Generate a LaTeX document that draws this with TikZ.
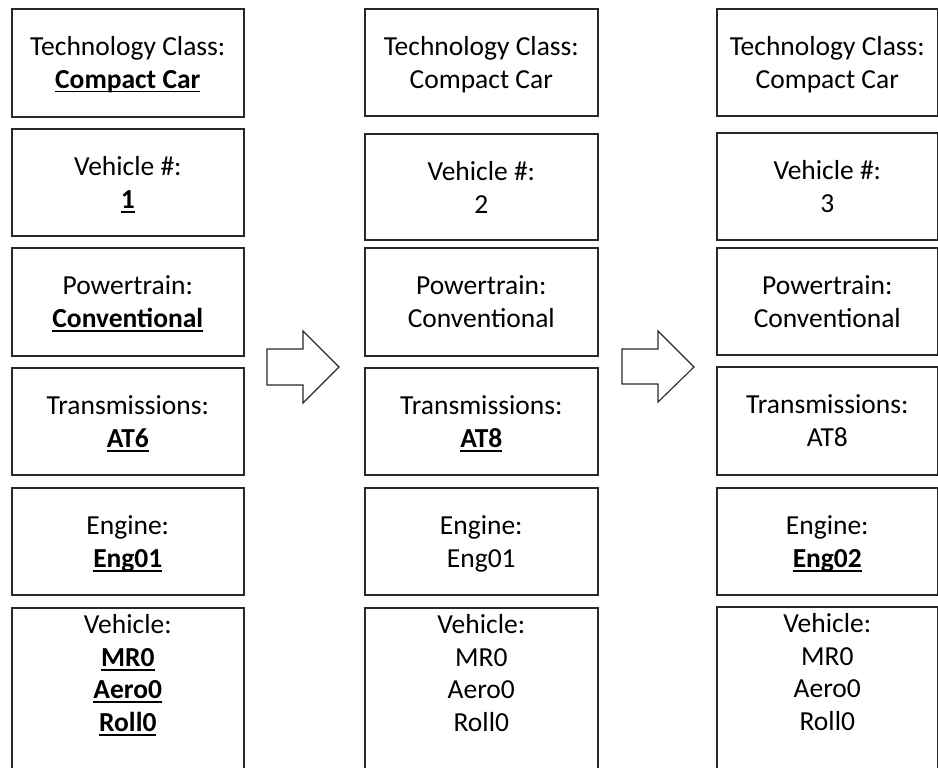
\documentclass[tikz,border=0pt]{standalone}
\usepackage{fontspec}
\setmainfont{Carlito}
\usepackage{tikz}
\definecolor{edge}{RGB}{40, 40, 40}
\newsavebox{\chgbox}
\newcommand{\chg}[1]{\leavevmode\sbox{\chgbox}{\textbf{#1}}\rlap{\rule[-4.2pt]{\wd\chgbox}{1.7pt}}\usebox{\chgbox}}
\newcommand{\boxtext}[4][47pt]{\parbox[c][#3][t]{#2}{\centering\rule{0pt}{#1}#4}}
\tikzset{
  cell/.style={draw=edge, line width=1.6pt, anchor=north west,
    inner sep=0pt, font=\fontsize{27.5}{32.5}\selectfont},
  blockarrow/.style={draw=edge, line width=1.1pt, fill=white, line join=miter}
}

\begin{document}
\begin{tikzpicture}[x=1pt, y=-1pt]

         \useasboundingbox (0,0) rectangle (938,768);
         \clip (0,0) rectangle (938,768);

         % vehicle 1
         \node[cell] (tc1) at (11,8)
         {\boxtext{232pt}{108pt}{Technology Class:\\\chg{Compact Car}}};
         \node[cell] (vn1) at (11,128)
         {\boxtext{232pt}{107pt}{Vehicle \#:\\\chg{1}}};
         \node[cell] (pt1) at (11,247)
         {\boxtext{232pt}{108pt}{Powertrain:\\\chg{Conventional}}};
         \node[cell] (tr1) at (11,367)
         {\boxtext{232pt}{107pt}{Transmissions:\\\chg{AT6}}};
         \node[cell] (en1) at (11,487)
         {\boxtext{232pt}{107pt}{Engine:\\\chg{Eng01}}};
         \node[cell] (ve1) at (11,607)
         {\boxtext[26pt]{232pt}{220pt}{Vehicle:\\\chg{MR0}\\\chg{Aero0}\\\chg{Roll0}}};

         % vehicle 2
         \node[cell] (tc2) at (364,8)
         {\boxtext{233pt}{107pt}{Technology Class:\\Compact Car}};
         \node[cell] (vn2) at (364,133)
         {\boxtext{233pt}{106pt}{Vehicle \#:\\2}};
         \node[cell] (pt2) at (364,247)
         {\boxtext{233pt}{108pt}{Powertrain:\\Conventional}};
         \node[cell] (tr2) at (364,367)
         {\boxtext{233pt}{107pt}{Transmissions:\\\chg{AT8}}};
         \node[cell] (en2) at (364,487)
         {\boxtext{233pt}{107pt}{Engine:\\Eng01}};
         \node[cell] (ve2) at (364,607)
         {\boxtext[26pt]{233pt}{220pt}{Vehicle:\\MR0\\Aero0\\Roll0}};

         % vehicle 3
         \node[cell] (tc3) at (716,8)
         {\boxtext{221pt}{107pt}{Technology Class:\\Compact Car}};
         \node[cell] (vn3) at (716,132)
         {\boxtext{221pt}{107pt}{Vehicle \#:\\3}};
         \node[cell] (pt3) at (716,247)
         {\boxtext{221pt}{107pt}{Powertrain:\\Conventional}};
         \node[cell] (tr3) at (716,366)
         {\boxtext{221pt}{108pt}{Transmissions:\\AT8}};
         \node[cell] (en3) at (716,487)
         {\boxtext{221pt}{107pt}{Engine:\\\chg{Eng02}}};
         \node[cell] (ve3) at (716,606)
         {\boxtext[26pt]{221pt}{220pt}{Vehicle:\\MR0\\Aero0\\Roll0}};

         % step arrows
         \draw[blockarrow] (267,349) -- (303,349) -- (303,331) -- (339,367)
             -- (303,403) -- (303,385) -- (267,385) -- cycle;
         \draw[blockarrow] (622,349) -- (658,349) -- (658,331) -- (694,367)
             -- (658,402) -- (658,384) -- (622,384) -- cycle;

     \end{tikzpicture}
\end{document}
